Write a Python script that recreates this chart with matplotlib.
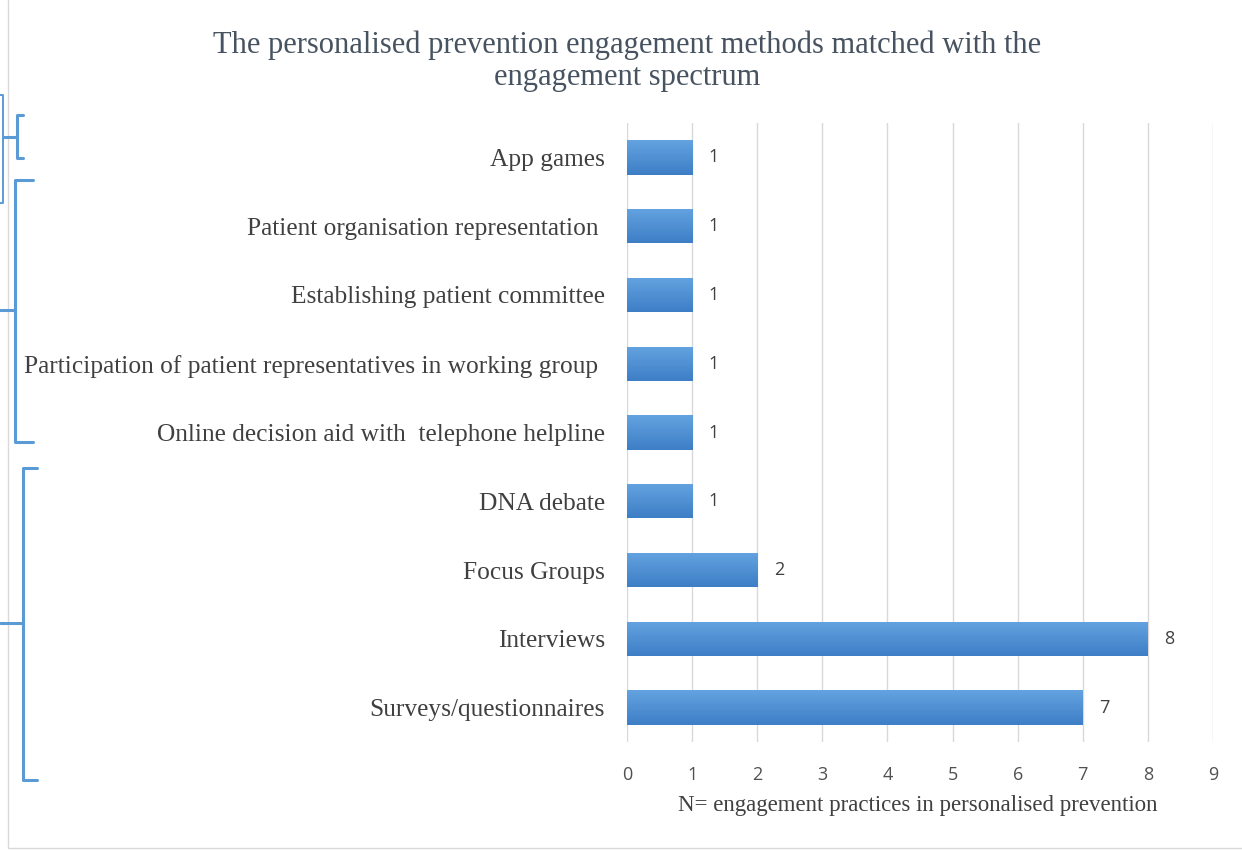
import numpy as np
import matplotlib
matplotlib.use('Agg')
import matplotlib.pyplot as plt
from matplotlib.lines import Line2D
from matplotlib.colors import LinearSegmentedColormap

# data, bottom to top as drawn
methods = ['Surveys/questionnaires', 'Interviews', 'Focus Groups', 'DNA debate',
           'Online decision aid with  telephone helpline',
           'Participation of patient representatives in working group ',
           'Establishing patient committee', 'Patient organisation representation ',
           'App games']
counts = [7, 8, 2, 1, 1, 1, 1, 1, 1]

title = 'The personalised prevention engagement methods matched with the\nengagement spectrum'
x_label = 'N= engagement practices in personalised prevention'

W, H = 1242, 850
serif = 'Liberation Serif'
sans = 'Open Sans'
blue = '#5B9BD5'

fig = plt.figure(figsize=(W / 100, H / 100), dpi=100)
ax = fig.add_axes([627 / W, 1 - 742 / H, (1213 - 627) / W, (742 - 123) / H])

ypos = np.arange(len(methods))
bars = ax.barh(ypos, counts, height=0.5, color=blue, zorder=2)

# gradient fill on each bar (light on top, darker at bottom)
cmap = LinearSegmentedColormap.from_list('bar', ['#3d7ec6', '#64a3e0'])
grad = np.linspace(0, 1, 64).reshape(-1, 1)
for b in bars:
    x0, y0, w, h = b.get_x(), b.get_y(), b.get_width(), b.get_height()
    im = ax.imshow(grad, cmap=cmap, origin='lower', aspect='auto',
                   extent=[x0, x0 + w, y0, y0 + h], zorder=3)
    im.set_clip_path(b)

for y, v in zip(ypos, counts):
    ax.annotate(str(v), (v, y), xytext=(12, 0), textcoords='offset points',
                va='center', ha='left', fontsize=13, family=sans, color='#404040')

ax.set_xlim(0, 9)
ax.set_ylim(-0.5, len(methods) - 0.5)
ax.set_xticks(range(10))
ax.set_yticks(ypos)
ax.set_yticklabels(methods, family=serif, fontsize=18.3, color='#404040')
for lab in ax.get_xticklabels():
    lab.set_family(sans)
    lab.set_fontsize(13)
    lab.set_color('#505050')
ax.tick_params(axis='both', length=0)
ax.tick_params(axis='y', pad=16)
ax.tick_params(axis='x', pad=17)
ax.grid(axis='x', color='#d9d9d9', lw=1, zorder=0)
ax.set_axisbelow(True)
for s in ax.spines.values():
    s.set_visible(False)

fig.text(627 / W, 1 - 61 / H, title, ha='center', va='center', family=serif,
         fontsize=22, color='#475360', linespacing=1.12)
fig.text(918 / W, 1 - 805 / H, x_label, ha='center', va='center', family=serif,
         fontsize=16.5, color='#404040')


def line(xs, ys, lw=2.2, color=blue):
    fig.add_artist(Line2D([x / W for x in xs], [1 - y / H for y in ys],
                          transform=fig.transFigure, color=color, lw=lw,
                          solid_capstyle='round', solid_joinstyle='round'))


# screenshot border
line([8, 8, W], [0, 848, 848], lw=1, color='#d9d9d9')

# box at the left edge
line([0, 3, 3, 0], [95, 95, 203, 203], lw=1.4)

# brackets: cap, spine, cap, then the middle tick
line([23, 17, 17, 23], [115, 115, 158, 158])
line([3, 17], [137, 137])
line([33, 15, 15, 33], [180, 180, 442, 442])
line([0, 15], [310, 310])
line([37, 23, 23, 37], [468, 468, 780, 780])
line([0, 23], [623, 623])

fig.savefig('out.png', dpi=100)
